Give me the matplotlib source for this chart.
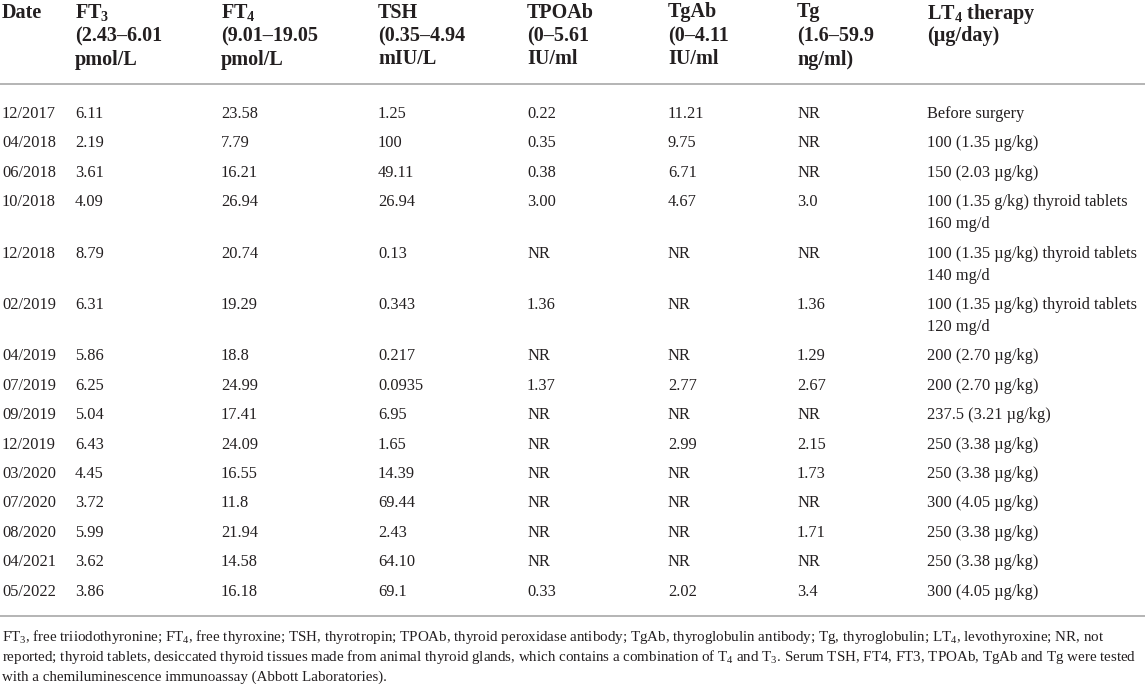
import matplotlib
matplotlib.use("Agg")
import matplotlib.pyplot as plt

plt.rcParams['font.family'] = ['Liberation Serif', 'DejaVu Serif']
plt.rcParams['mathtext.fontset'] = 'custom'
plt.rcParams['mathtext.rm'] = 'Liberation Serif'
plt.rcParams['mathtext.it'] = 'Liberation Serif:italic'
plt.rcParams['mathtext.bf'] = 'Liberation Serif:bold'

# table contents
headers = [
    ["Date"],
    [r"FT$_\mathbf{3}$", "(2.43–6.01", "pmol/L"],
    [r"FT$_\mathbf{4}$", "(9.01–19.05", "pmol/L"],
    ["TSH", "(0.35–4.94", "mIU/L"],
    ["TPOAb", "(0–5.61", "IU/ml"],
    ["TgAb", "(0–4.11", "IU/ml"],
    ["Tg", "(1.6–59.9", "ng/ml)"],
    [r"LT$_\mathbf{4}$ therapy", "(µg/day)"],
]
dates = ["12/2017", "04/2018", "06/2018", "10/2018", "12/2018", "02/2019", "04/2019",
         "07/2019", "09/2019", "12/2019", "03/2020", "07/2020", "08/2020", "04/2021", "05/2022"]
ft3 = ["6.11", "2.19", "3.61", "4.09", "8.79", "6.31", "5.86", "6.25", "5.04", "6.43",
       "4.45", "3.72", "5.99", "3.62", "3.86"]
ft4 = ["23.58", "7.79", "16.21", "26.94", "20.74", "19.29", "18.8", "24.99", "17.41",
       "24.09", "16.55", "11.8", "21.94", "14.58", "16.18"]
tsh = ["1.25", "100", "49.11", "26.94", "0.13", "0.343", "0.217", "0.0935", "6.95",
       "1.65", "14.39", "69.44", "2.43", "64.10", "69.1"]
tpoab = ["0.22", "0.35", "0.38", "3.00", "NR", "1.36", "NR", "1.37", "NR", "NR", "NR",
         "NR", "NR", "NR", "0.33"]
tgab = ["11.21", "9.75", "6.71", "4.67", "NR", "NR", "NR", "2.77", "NR", "2.99", "NR",
        "NR", "NR", "NR", "2.02"]
tg = ["NR", "NR", "NR", "3.0", "NR", "1.36", "1.29", "2.67", "NR", "2.15", "1.73",
      "NR", "1.71", "NR", "3.4"]
lt4 = ["Before surgery", "100 (1.35 µg/kg)", "150 (2.03 µg/kg)",
       "100 (1.35 g/kg) thyroid tablets\n160 mg/d",
       "100 (1.35 µg/kg) thyroid tablets\n140 mg/d",
       "100 (1.35 µg/kg) thyroid tablets\n120 mg/d",
       "200 (2.70 µg/kg)", "200 (2.70 µg/kg)", "237.5 (3.21 µg/kg)", "250 (3.38 µg/kg)",
       "250 (3.38 µg/kg)", "300 (4.05 µg/kg)", "250 (3.38 µg/kg)", "250 (3.38 µg/kg)",
       "300 (4.05 µg/kg)"]
footnote = [
    "FT$_3$, free triiodothyronine; FT$_4$, free thyroxine; TSH, thyrotropin; TPOAb, thyroid peroxidase antibody; "
    "TgAb, thyroglobulin antibody; Tg, thyroglobulin; LT$_4$, levothyroxine; NR, not",
    "reported; thyroid tablets, desiccated thyroid tissues made from animal thyroid glands, which contains a "
    "combination of T$_4$ and T$_3$. Serum TSH, FT4, FT3, TPOAb, TgAb and Tg were tested",
    "with a chemiluminescence immunoassay (Abbott Laboratories).",
]

columns = [dates, ft3, ft4, tsh, tpoab, tgab, tg, lt4]
col_x = [2, 75, 221, 378, 527, 668, 797, 927]
ink = '#231f20'
rule = '#b4b4b4'

W, H = 1145, 684
fig = plt.figure(figsize=(W / 100, H / 100), dpi=100)
ax = fig.add_axes([0, 0, 1, 1])
ax.set_xlim(0, W)
ax.set_ylim(H, 0)
ax.axis('off')

# header
for x, lines in zip(col_x, headers):
    for i, s in enumerate(lines):
        ax.text(x, 10 + i * 23.5, s, fontsize=14.5, fontweight='bold', color=ink,
                ha='left', va='center_baseline')

ax.plot([0, W], [84, 84], color=rule, lw=1.4, solid_capstyle='butt')

# body rows
y = 112
for r in range(len(dates)):
    nlines = 1
    for x, col in zip(col_x, columns):
        parts = col[r].split('\n')
        nlines = max(nlines, len(parts))
        for k, s in enumerate(parts):
            ax.text(x, y + k * 22, s, fontsize=11.8, color=ink,
                    ha='left', va='center_baseline')
    y += 29.4 + (nlines - 1) * 22

ax.plot([0, W], [616, 616], color=rule, lw=1.4, solid_capstyle='butt')

# footnote
for i, s in enumerate(footnote):
    ax.text(2, 634 + i * 21, s, fontsize=10.8, color=ink, ha='left', va='center_baseline')

fig.savefig('out.png', dpi=100)
